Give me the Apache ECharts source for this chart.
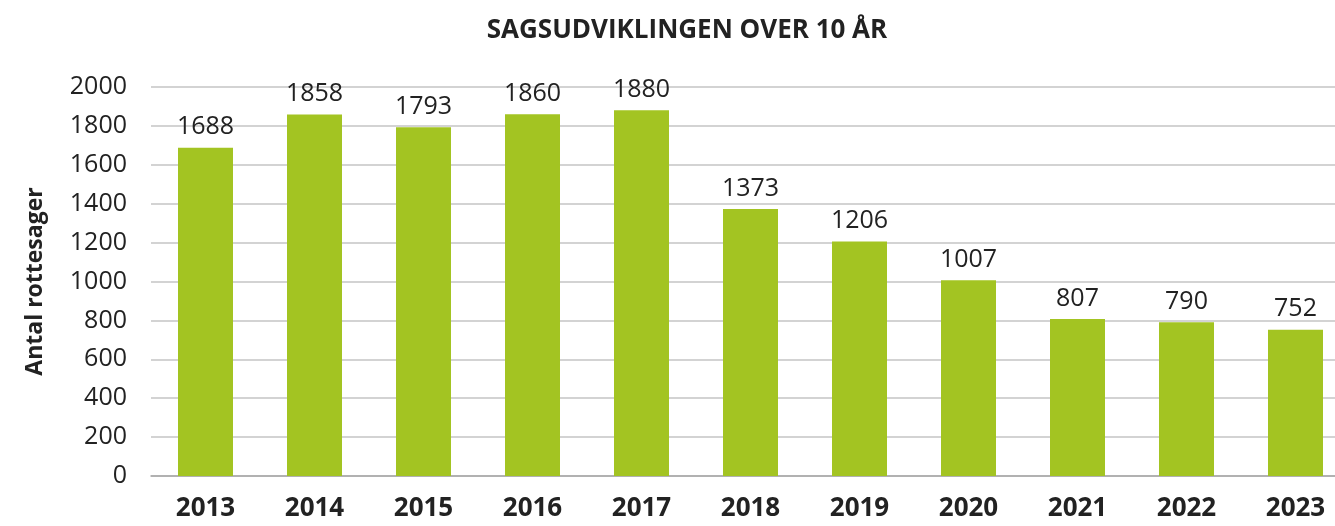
<!DOCTYPE html>
<html><head><meta charset="utf-8">
<script src="https://cdn.jsdelivr.net/npm/echarts@6/dist/echarts.min.js"></script>
<style>html,body{margin:0;padding:0;background:#fff;overflow:hidden}#c{width:1350px;height:526px}</style>
</head><body><div id="c"></div>
<script>
const title = 'SAGSUDVIKLINGEN OVER 10 ÅR';
const yAxisName = 'Antal rottesager';
const years = ['2013','2014','2015','2016','2017','2018','2019','2020','2021','2022','2023'];
const cases = [1688,1858,1793,1860,1880,1373,1206,1007,807,790,752];
const FONT = '"Open Sans", "Noto Sans", sans-serif';
const chart = echarts.init(document.getElementById('c'), null, {renderer:'canvas'});
chart.setOption({
  animation:false,
  backgroundColor:'#fff',
  title:{text:title,left:682,top:13,textAlign:'center',textStyle:{fontFamily:FONT,fontWeight:'bold',fontSize:26,color:'#222'}},
  grid:{left:151,right:0,top:87,bottom:50},
  xAxis:{type:'category',data:years,
    axisLine:{lineStyle:{color:'#a6a6a6',width:1.5}},axisTick:{show:false},
    axisLabel:{fontFamily:FONT,fontWeight:'bold',fontSize:26,color:'#222',margin:20}},
  yAxis:{type:'value',min:0,max:2000,interval:200,
    name:yAxisName,nameLocation:'middle',nameGap:104,
    nameTextStyle:{fontFamily:FONT,fontWeight:'bold',fontSize:23,color:'#222'},
    axisLine:{show:false},axisTick:{show:false},
    splitLine:{lineStyle:{color:'#c4c4c4',width:1.5}},
    axisLabel:{fontFamily:FONT,fontSize:25,color:'#222',margin:24,formatter:v=>String(v)}},
  series:[{type:'bar',data:cases,barWidth:55,
    itemStyle:{color:'#a3c422'},
    label:{show:true,position:'top',distance:8,fontFamily:FONT,fontSize:25,color:'#222'}}]
});
</script></body></html>
